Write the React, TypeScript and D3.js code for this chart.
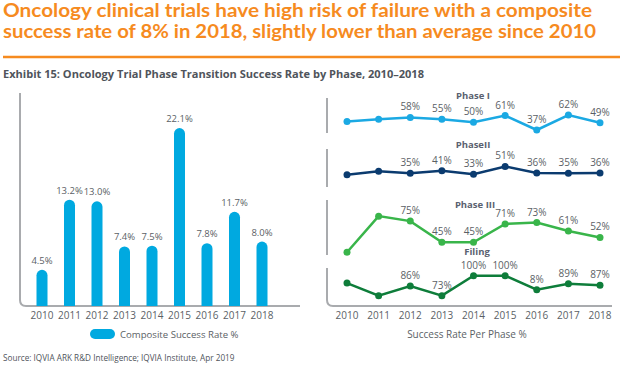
import React from 'react'
import * as d3 from 'd3'

const width = 640
const height = 366
const font = "'Open Sans', 'DejaVu Sans', sans-serif"
const orange = '#F68B1F'
const textGray = '#5b5f66'
const axisGray = '#a9abae'

const years = ['2010', '2011', '2012', '2013', '2014', '2015', '2016', '2017', '2018']
const composite = [4.5, 13.2, 13.0, 7.4, 7.5, 22.1, 7.8, 11.7, 8.0]

const phase1 = [51, 55, 58, 55, 50, 61, 37, 62, 49]
const phase1Labels = [null, null, '58%', '55%', '50%', '61%', '37%', '62%', '49%']
const phase2 = [32, 40, 35, 41, 33, 51, 36, 35, 36]
const phase2Labels = [null, null, '35%', '41%', '33%', '51%', '36%', '35%', '36%']
const phase3 = [31, 82, 75, 45, 45, 71, 73, 61, 52]
const phase3Labels = [null, null, '75%', '45%', '45%', '71%', '73%', '61%', '52%']
const filing = [90, 73, 86, 73, 100, 100, 81, 89, 87]
const filingLabels = [null, null, '86%', '73%', '100%', '100%', '8%', '89%', '87%']

const panels = [
  { name: 'Phase I', values: phase1, labels: phase1Labels, color: '#1BA9E3', domain: [30, 65], range: [134.2, 113.2], titleX: 473, titleY: 99, axis: [98, 133] },
  { name: 'PhaseII', values: phase2, labels: phase2Labels, color: '#0B3B6F', domain: [30, 55], range: [175.5, 164.7], titleX: 473, titleY: 148, axis: [149, 187] },
  { name: 'Phase III', values: phase3, labels: phase3Labels, color: '#39B54A', domain: [30, 85], range: [253.0, 214.0], titleX: 475, titleY: 208, axis: [200, 255] },
  { name: 'Filing', values: filing, labels: filingLabels, color: '#0E7D3A', domain: [70, 100], range: [297.9, 275.7], titleX: 477, titleY: 255, axis: [268, 306] },
]

function App() {
  // left: composite bars
  const xBar = d3.scalePoint().domain(years).range([42, 262])
  const yBar = d3.scaleLinear().domain([0, 26]).range([306, 96.7])
  const barW = 11

  const barPath = (cx: number, top: number, bottom: number) => {
    const r = barW / 2
    return `M${cx - r},${bottom} V${top + r} A${r},${r} 0 0 1 ${cx + r},${top + r} V${bottom} Z`
  }

  // right: phase lines
  const xLine = d3.scalePoint().domain(years).range([347, 600])

  return (
    <svg width={width} height={height} style={{ position: 'absolute', left: 0, top: 0, fontFamily: font }}>
      <rect width={width} height={height} fill="#fff" />
      <g fontFamily="Lato, 'Open Sans', sans-serif" fontSize={18} fontWeight={700} fill={orange}>
        <text x={3} y={17} textLength={589} lengthAdjust="spacingAndGlyphs">
          Oncology clinical trials have high risk of failure with a composite
        </text>
        <text x={3} y={38} textLength={593} lengthAdjust="spacingAndGlyphs">
          success rate of 8% in 2018, slightly lower than average since 2010
        </text>
      </g>
      <line x1={3} x2={620} y1={57} y2={57} stroke={orange} strokeWidth={2.5} />
      <text x={3} y={78} fontSize={10.5} fontWeight={700} fill="#4f545b" textLength={421} lengthAdjust="spacingAndGlyphs">
        Exhibit 15: Oncology Trial Phase Transition Success Rate by Phase, 2010–2018
      </text>

      {/* left axis */}
      <path d="M20,93 V300 Q20,306 26,306 H300" fill="none" stroke={axisGray} strokeWidth={2} />
      {composite.map((v, i) => {
        const cx = xBar(years[i]) as number
        return (
          <g key={years[i]}>
            <path d={barPath(cx, yBar(v), yBar(0))} fill="#00A9E0" />
            <text x={cx} y={yBar(v) - 6} textAnchor="middle" fontSize={9.5} fill={textGray}>
              {v.toFixed(1)}%
            </text>
          </g>
        )
      })}
      {years.map((y) => (
        <text key={y} x={xBar(y) as number} y={319} textAnchor="middle" fontSize={10} fill={textGray}>
          {y}
        </text>
      ))}
      <rect x={90} y={329} width={25} height={10} rx={5} fill="#00A9E0" />
      <text x={120} y={338} fontSize={9.6} fill={textGray}>
        Composite Success Rate %
      </text>
      <text x={3} y={361} fontSize={8.2} fill="#4f545b">
        Source: IQVIA ARK R&amp;D Intelligence; IQVIA Institute, Apr 2019
      </text>

      {/* right panels */}
      {panels.map((p, pi) => {
        const y = d3.scaleLinear().domain(p.domain).range(p.range)
        const line = d3
          .line<number>()
          .x((_, i) => xLine(years[i]) as number)
          .y((d) => y(d))
        const axisD =
          pi === panels.length - 1
            ? `M327,${p.axis[0]} V${p.axis[1] - 6} Q327,${p.axis[1]} 333,${p.axis[1]} H612`
            : `M327,${p.axis[0]} V${p.axis[1]}`
        return (
          <g key={p.name}>
            <path d={axisD} fill="none" stroke={axisGray} strokeWidth={2} />
            <path d={line(p.values) || ''} fill="none" stroke={p.color} strokeWidth={2.5} />
            {p.values.map((v, i) => (
              <circle key={i} cx={xLine(years[i]) as number} cy={y(v)} r={3.5} fill={p.color} />
            ))}
            {p.labels.map((l, i) =>
              l ? (
                <text key={i} x={xLine(years[i]) as number} y={y(p.values[i]) - 7} textAnchor="middle" fontSize={10} fill={textGray}>
                  {l}
                </text>
              ) : null
            )}
            <text x={p.titleX} y={p.titleY} textAnchor="middle" fontSize={9.5} fontWeight={700} fill="#5a6170">
              {p.name}
            </text>
          </g>
        )
      })}
      {years.map((yr) => (
        <text key={yr} x={xLine(yr) as number} y={319} textAnchor="middle" fontSize={10} fill={textGray}>
          {yr}
        </text>
      ))}
      <text x={467} y={338} textAnchor="middle" fontSize={10} fill={textGray}>
        Success Rate Per Phase %
      </text>
    </svg>
  )
}

export default App
